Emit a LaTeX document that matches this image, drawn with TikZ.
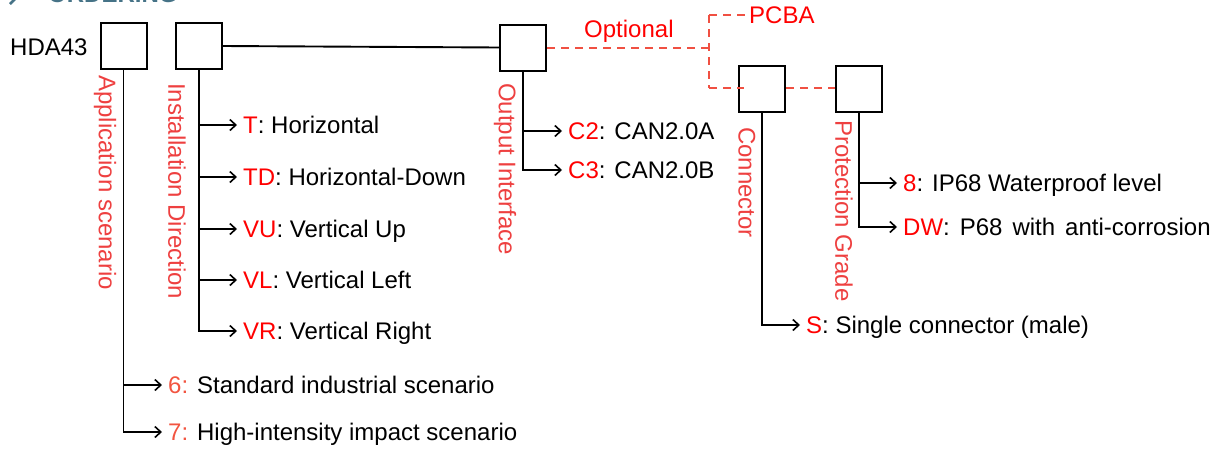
\documentclass[tikz,border=0pt]{standalone}
\usepackage{fontspec}
\setmainfont{Liberation Sans}
\usetikzlibrary{arrows.meta}
\definecolor{lblred}{RGB}{238,64,64}
\definecolor{codered}{RGB}{255,0,0}
\definecolor{numred}{RGB}{242,84,64}
\definecolor{dashred}{RGB}{240,80,66}
\definecolor{titleteal}{RGB}{70,115,135}
\begin{document}
\begin{tikzpicture}[x=1pt,y=-1pt,font=\fontsize{24}{28}\selectfont,
  box/.style={draw, line width=2pt, minimum size=46pt, inner sep=0pt},
  stem/.style={line width=1.9pt, -{Straight Barb[length=6pt,width=11pt,line width=1.6pt]}},
  item/.style={anchor=west, inner xsep=6pt, inner ysep=0pt, text height=17pt, text depth=0pt},
  vlabel/.style={rotate=-90, anchor=west, inner sep=0pt, text=lblred},
  dashln/.style={draw=dashred, line width=2pt, dash pattern=on 8pt off 6pt}]
\useasboundingbox (0,0) rectangle (1228,448);
\clip (0,0) rectangle (1228,448);
% clipped title
\node[anchor=base west, inner sep=0pt, text=titleteal, font=\fontsize{24}{28}\selectfont\bfseries] (title) at (48,2) {ORDERING};
\draw[titleteal, line width=2.5pt] (10,-6) -- (15,-1) -- (10,4);
% model and boxes
\node[anchor=base west, inner sep=0pt] (model) at (10,55) {HDA43};
\node[box] (b1) at (123.5,46) {};
\node[box] (b2) at (199,46) {};
\node[box] (b3) at (523,47.5) {};
\node[box] (b4) at (762,88.5) {};
\node[box] (b5) at (859,88.5) {};
\draw[line width=1.9pt] (b2.east) -- (b3.west);
% dashed optional part
\coordinate (jm) at (709,47.5);
\coordinate (jt) at (709,15);
\coordinate (jb) at (709,87.5);
\node[anchor=base west, inner sep=0pt, text=codered] (opt) at (584,37) {Optional};
\node[item, inner xsep=0pt, text=codered] (pcba) at (749,15) {PCBA};
\draw[dashln] (b3.east) -- (jm);
\draw[dashln] (jt) -- (jb);
\draw[dashln] (jt) -- ([xshift=-2pt]pcba.west);
\draw[dashln] (jb) -- ([xshift=6pt]b4.west |- jb);
\draw[dashln] (b4.east |- jb) -- (b5.west |- jb);
% vertical labels
\node[vlabel] (lapp) at (105,75) {Application scenario};
\node[vlabel] (linst) at (177,83) {Installation Direction};
\node[vlabel] (lout) at (505,83) {Output Interface};
\node[vlabel] (lcon) at (747,127) {Connector};
\node[vlabel] (lprot) at (844,120) {Protection Grade};
% items
\node[item] (i6) at (162,385) {\textcolor{numred}{6:} Standard industrial scenario};
\node[item] (i7) at (162,432) {\textcolor{numred}{7:} High-intensity impact scenario};
\node[item] (iT) at (237,125) {\textcolor{codered}{T}: Horizontal};
\node[item] (iTD) at (237,177) {\textcolor{codered}{TD}: Horizontal-Down};
\node[item] (iVU) at (237,229) {\textcolor{codered}{VU}: Vertical Up};
\node[item] (iVL) at (237,280) {\textcolor{codered}{VL}: Vertical Left};
\node[item] (iVR) at (237,331) {\textcolor{codered}{VR}: Vertical Right};
\node[item] (iC2) at (562,131) {\textcolor{codered}{C2}: CAN2.0A};
\node[item] (iC3) at (562,170) {\textcolor{codered}{C3}: CAN2.0B};
\node[item] (iS) at (800,325) {\textcolor{codered}{S}: Single connector (male)};
\node[item] (i8) at (897,183) {\textcolor{codered}{8}: IP68 Waterproof level};
\node[item] (iDW) at (897,227) {\textcolor{codered}{DW}:\hspace{10pt}P68\hspace{10pt}with\hspace{10pt}anti-corrosion};
% stems
\draw[stem] (b1.south) |- (i6.west);
\draw[stem] (b1.south) |- (i7.west);
\foreach \t in {iT,iTD,iVU,iVL,iVR} \draw[stem] (b2.south) |- (\t.west);
\draw[stem] (b3.south) |- (iC2.west);
\draw[stem] (b3.south) |- (iC3.west);
\draw[stem] (b4.south) |- (iS.west);
\draw[stem] (b5.south) |- (i8.west);
\draw[stem] (b5.south) |- (iDW.west);
\end{tikzpicture}
\end{document}
